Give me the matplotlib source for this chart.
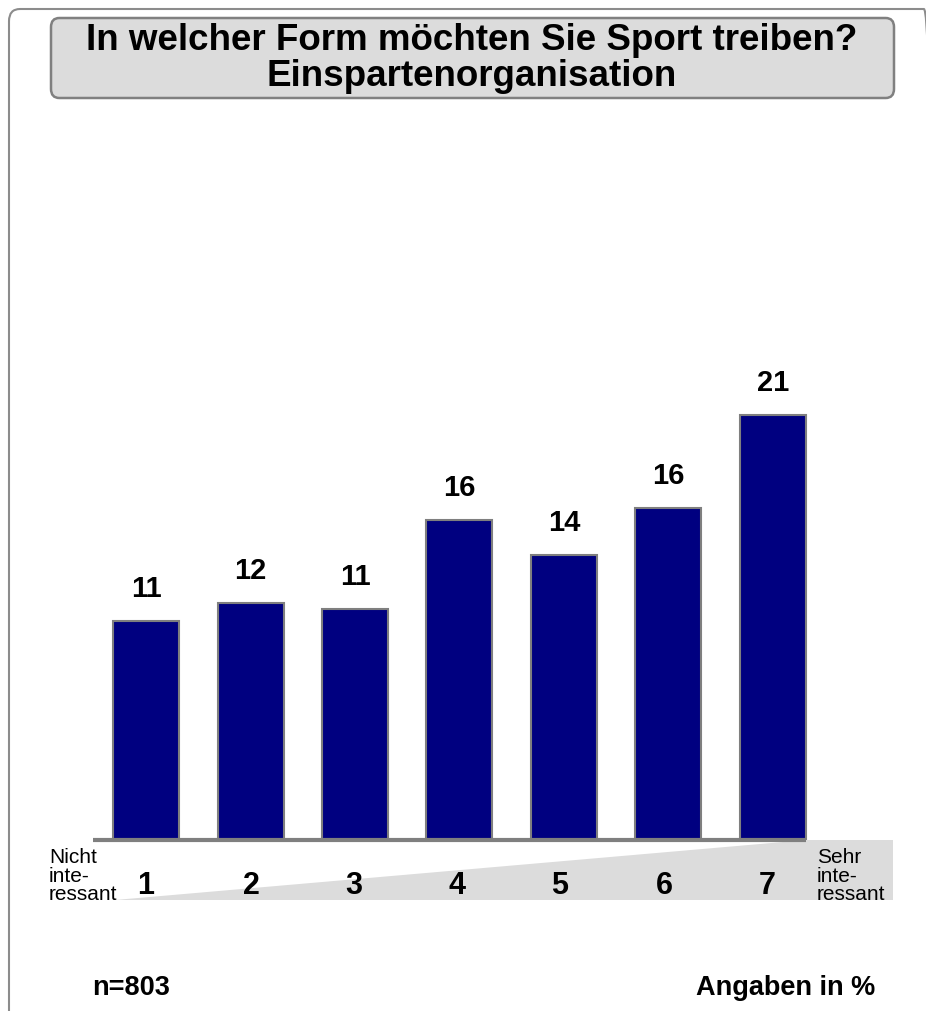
import numpy as np
import matplotlib
matplotlib.use("Agg")
import matplotlib.pyplot as plt
from matplotlib.patches import FancyBboxPatch, Polygon

## data
categories = ["1", "2", "3", "4", "5", "6", "7"]
values = [10.8, 11.7, 11.4, 15.8, 14.1, 16.4, 21.0]
value_labels = ["11", "12", "11", "16", "14", "16", "21"]
title_lines = ["In welcher Form möchten Sie Sport treiben?", "Einspartenorganisation"]
left_label = "Nicht\ninte-\nressant"
right_label = "Sehr\ninte-\nressant"
n_label = "n=803"
unit_label = "Angaben in %"

W, H = 926, 1011
plt.rcParams['font.family'] = ['Liberation Sans', 'DejaVu Sans']


def fx(px):
    return px / W


def fy(py):
    return 1 - py / H


fig = plt.figure(figsize=(W / 100, H / 100), dpi=100)
fig.patch.set_facecolor('white')

# outer frame (runs off the right and bottom edges)
frame = FancyBboxPatch((fx(9), fy(1030)), fx(935) - fx(9), fy(9) - fy(1030),
                       boxstyle="round,pad=0,rounding_size=0.012",
                       transform=fig.transFigure, facecolor='none',
                       edgecolor='#8c8c8c', lw=1.5)
fig.patches.append(frame)

# title box
tbox = FancyBboxPatch((fx(51), fy(98)), fx(894) - fx(51), fy(18) - fy(98),
                      boxstyle="round,pad=0,rounding_size=0.009",
                      transform=fig.transFigure, facecolor='#dcdcdc',
                      edgecolor='#808080', lw=1.8)
fig.patches.append(tbox)
fig.text(fx(472), fy(41), title_lines[0], ha='center', va='center',
         fontsize=26.5, fontweight='bold')
fig.text(fx(472), fy(76), title_lines[1], ha='center', va='center',
         fontsize=26.5, fontweight='bold')

# axes: x unit = 104.5 px, bar 1 centred at px 146, baseline at px 840
step = 104.5
scale = 20.24
x0_px = 146 - 0.5 * step
ax = fig.add_axes([fx(x0_px), fy(840), fx(7 * step), 25 * scale / H])
ax.set_xlim(-0.5, 6.5)
ax.set_ylim(0, 25)
ax.axis('off')

x = np.arange(len(categories))
bw = 66 / step
ax.bar(x, values, width=bw, color='#000080', edgecolor='#7f7f7f', lw=1.5, zorder=3)
for xi, v, lab in zip(x, values, value_labels):
    ax.text(xi, v + 32 / scale, lab, ha='center', va='center',
            fontsize=21, fontweight='bold')

# scale wedge under the axis
def dx(px):
    return (px - 146) / step


def dy(py):
    return (840 - py) / scale


wedge = Polygon([(dx(115), dy(900)), (dx(806), dy(840)), (dx(893), dy(840)),
                 (dx(893), dy(900))], closed=True, facecolor='#dcdcdc',
                edgecolor='none', clip_on=False, zorder=1)
ax.add_patch(wedge)
ax.plot([dx(93), dx(806)], [0, 0], color='#7f7f7f', lw=3, clip_on=False,
        zorder=4, solid_capstyle='butt')

num_x = [146, 251, 354, 457, 560, 664, 767]
for px, c in zip(num_x, categories):
    ax.text(dx(px), dy(886), c, ha='center', va='center', fontsize=22,
            fontweight='bold', clip_on=False)

ax.text(dx(49), dy(876), left_label, ha='left', va='center', fontsize=15,
        linespacing=0.95, clip_on=False)
ax.text(dx(817), dy(876), right_label, ha='left', va='center', fontsize=15,
        linespacing=0.95, clip_on=False)

fig.text(fx(92), fy(988), n_label, ha='left', va='center', fontsize=19.5,
         fontweight='bold')
fig.text(fx(875), fy(988), unit_label, ha='right', va='center', fontsize=19.5,
         fontweight='bold')

fig.savefig('out.png', dpi=100)
